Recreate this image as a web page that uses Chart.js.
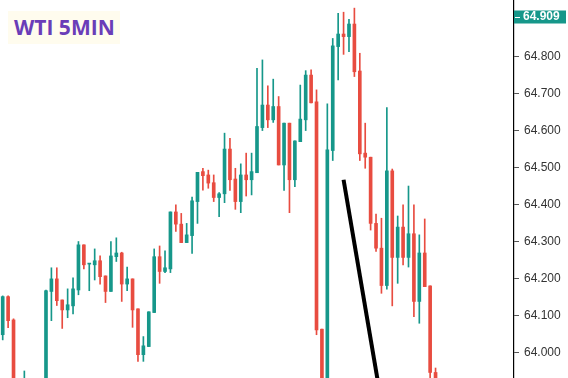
<!DOCTYPE html>
<html><head><meta charset="utf-8">
<script src="https://cdn.jsdelivr.net/npm/chart.js@4"></script>
<style>
html,body{margin:0;padding:0;background:#fff;}
#wrap{position:relative;width:568px;height:378px;}
#title{position:absolute;left:8px;top:11px;width:112px;height:33px;background:#fffcee;color:#6a3db8;font:700 21px 'Open Sans',sans-serif;line-height:33px;padding-left:6px;box-sizing:border-box;white-space:nowrap;}
</style></head><body>
<div id="wrap"><canvas id="c" width="568" height="378"></canvas><div id="title">WTI 5MIN</div></div>
<script>
// candle index 0..80 (axis has room for 95 slots)
const opens  = [64.049,64.152,64.089,63.900,63.880,63.910,63.870,63.890,63.880,64.166,
                64.200,64.143,64.116,64.127,64.170,64.292,64.240,64.238,64.249,64.208,
                64.166,64.260,64.270,64.186,64.200,64.119,63.995,64.017,64.109,64.260,
                64.220,64.227,64.381,64.348,64.298,64.317,64.409,64.490,64.481,64.460,
                64.420,64.430,64.551,64.470,64.409,64.481,64.468,64.487,64.609,64.670,
                64.630,64.666,64.508,64.621,64.468,64.571,64.630,64.751,64.679,64.064,
                63.900,64.547,64.828,64.862,64.855,64.889,64.762,64.540,64.529,64.350,
                64.283,64.182,64.492,64.258,64.340,64.258,64.322,64.139,64.270,64.181,
                63.947];
const highs  = [64.154,64.154,64.092,63.915,63.951,63.925,63.920,63.925,64.170,64.230,
                64.230,64.143,64.173,64.203,64.301,64.292,64.242,64.281,64.262,64.208,
                64.301,64.311,64.272,64.232,64.200,64.119,64.044,64.111,64.281,64.289,
                64.276,64.381,64.400,64.377,64.350,64.421,64.488,64.499,64.494,64.481,
                64.433,64.594,64.580,64.499,64.511,64.540,64.540,64.769,64.792,64.722,
                64.740,64.693,64.621,64.621,64.573,64.724,64.763,64.765,64.711,64.064,
                64.673,64.850,64.918,64.921,64.902,64.932,64.810,64.621,64.529,64.375,
                64.364,64.663,64.497,64.370,64.400,64.451,64.400,64.319,64.362,64.181,
                63.959];
const lows   = [64.035,64.068,63.880,63.860,63.850,63.860,63.840,63.850,63.870,64.087,
                64.128,64.066,64.095,64.105,64.157,64.227,64.168,64.197,64.186,64.136,
                64.166,64.247,64.139,64.168,64.069,63.977,63.977,64.017,64.109,64.188,
                64.217,64.217,64.328,64.298,64.298,64.269,64.350,64.440,64.445,64.409,
                64.368,64.406,64.439,64.388,64.379,64.424,64.427,64.487,64.601,64.609,
                64.623,64.508,64.439,64.379,64.449,64.571,64.601,64.676,64.049,63.880,
                63.880,64.520,64.738,64.807,64.814,64.747,64.520,64.499,64.332,64.274,
                64.161,64.172,64.127,64.188,64.238,64.232,64.098,64.080,64.179,63.930,
                63.910];
const closes = [64.152,64.087,63.900,63.880,63.910,63.870,63.890,63.880,64.168,64.200,
                64.141,64.116,64.130,64.173,64.292,64.238,64.242,64.249,64.206,64.166,
                64.262,64.270,64.186,64.200,64.116,63.995,64.019,64.111,64.260,64.220,
                64.230,64.381,64.348,64.298,64.319,64.411,64.488,64.479,64.459,64.420,
                64.430,64.551,64.468,64.409,64.481,64.468,64.490,64.612,64.670,64.630,
                64.666,64.508,64.621,64.468,64.573,64.632,64.751,64.676,64.062,63.900,
                64.549,64.830,64.862,64.855,64.889,64.760,64.538,64.529,64.350,64.283,
                64.182,64.492,64.258,64.340,64.258,64.322,64.139,64.270,64.179,63.947,
                63.920];
const tickValues = [64.0,64.1,64.2,64.3,64.4,64.5,64.6,64.7,64.8];
const lastPrice = 64.909;
const trendIdx = [63, 69.6];
const trendPrice = [64.468, 63.90];

const UP = '#16978a', DOWN = '#e84c40';
const colors = closes.map((c,i) => c >= opens[i] ? UP : DOWN);

const lastPricePlugin = {
  id: 'lastPrice',
  afterDraw(chart) {
    const {ctx, scales:{y}, chartArea} = chart;
    const py = y.getPixelForValue(lastPrice);
    ctx.save();
    ctx.fillStyle = UP;
    ctx.fillRect(chartArea.right, Math.round(py) - 6.5, 52, 13);
    ctx.strokeStyle = '#fff'; ctx.lineWidth = 1;
    ctx.beginPath(); ctx.moveTo(chartArea.right + 1, Math.round(py) + 0.5); ctx.lineTo(chartArea.right + 6, Math.round(py) + 0.5); ctx.stroke();
    ctx.fillStyle = '#fff';
    ctx.font = 'bold 12px "Liberation Sans", Arial, sans-serif';
    ctx.textBaseline = 'middle';
    ctx.fillText(lastPrice.toFixed(3), chartArea.right + 9, py + 0.5);
    ctx.restore();
  }
};

new Chart(document.getElementById('c'), {
  type: 'bar',
  data: {
    datasets: [
      { type: 'line', data: trendIdx.map((x,i)=>({x, y: trendPrice[i]})), borderColor: '#000', borderWidth: 4,
        pointRadius: 0, borderCapStyle: 'butt', order: 0 },
      { data: opens.map((o,i)=>({x:i, y:[o, closes[i]]})), backgroundColor: colors, barThickness: 3,
        minBarLength: 1, grouped: false, borderWidth: 0, order: 1 },
      { data: lows.map((l,i)=>({x:i, y:[l, highs[i]]})), backgroundColor: colors, barThickness: 1,
        grouped: false, borderWidth: 0, order: 2 }
    ]
  },
  options: {
    responsive: false, animation: false, devicePixelRatio: 1,
    layout: { padding: 0 },
    plugins: { legend: { display: false }, tooltip: { enabled: false } },
    scales: {
      x: { type: 'linear', min: -0.5, max: 94.5, display: false, offset: false },
      y: {
        position: 'right', min: 63.932, max: 64.954,
        afterBuildTicks: s => { s.ticks = tickValues.map(v => ({value: v})); },
        afterFit: s => { s.width = 54; s.paddingTop = 0; s.paddingBottom = 0; },
        grid: { drawOnChartArea: false, drawTicks: true, tickLength: 5, color: '#555' },
        border: { display: true, color: '#000', width: 1.2 },
        ticks: { padding: 5, color: '#333', font: { family: '"Liberation Sans", Arial, sans-serif', size: 12 },
                 callback: v => Number(v).toFixed(3) }
      }
    }
  },
  plugins: [lastPricePlugin]
});
</script>
</body></html>
